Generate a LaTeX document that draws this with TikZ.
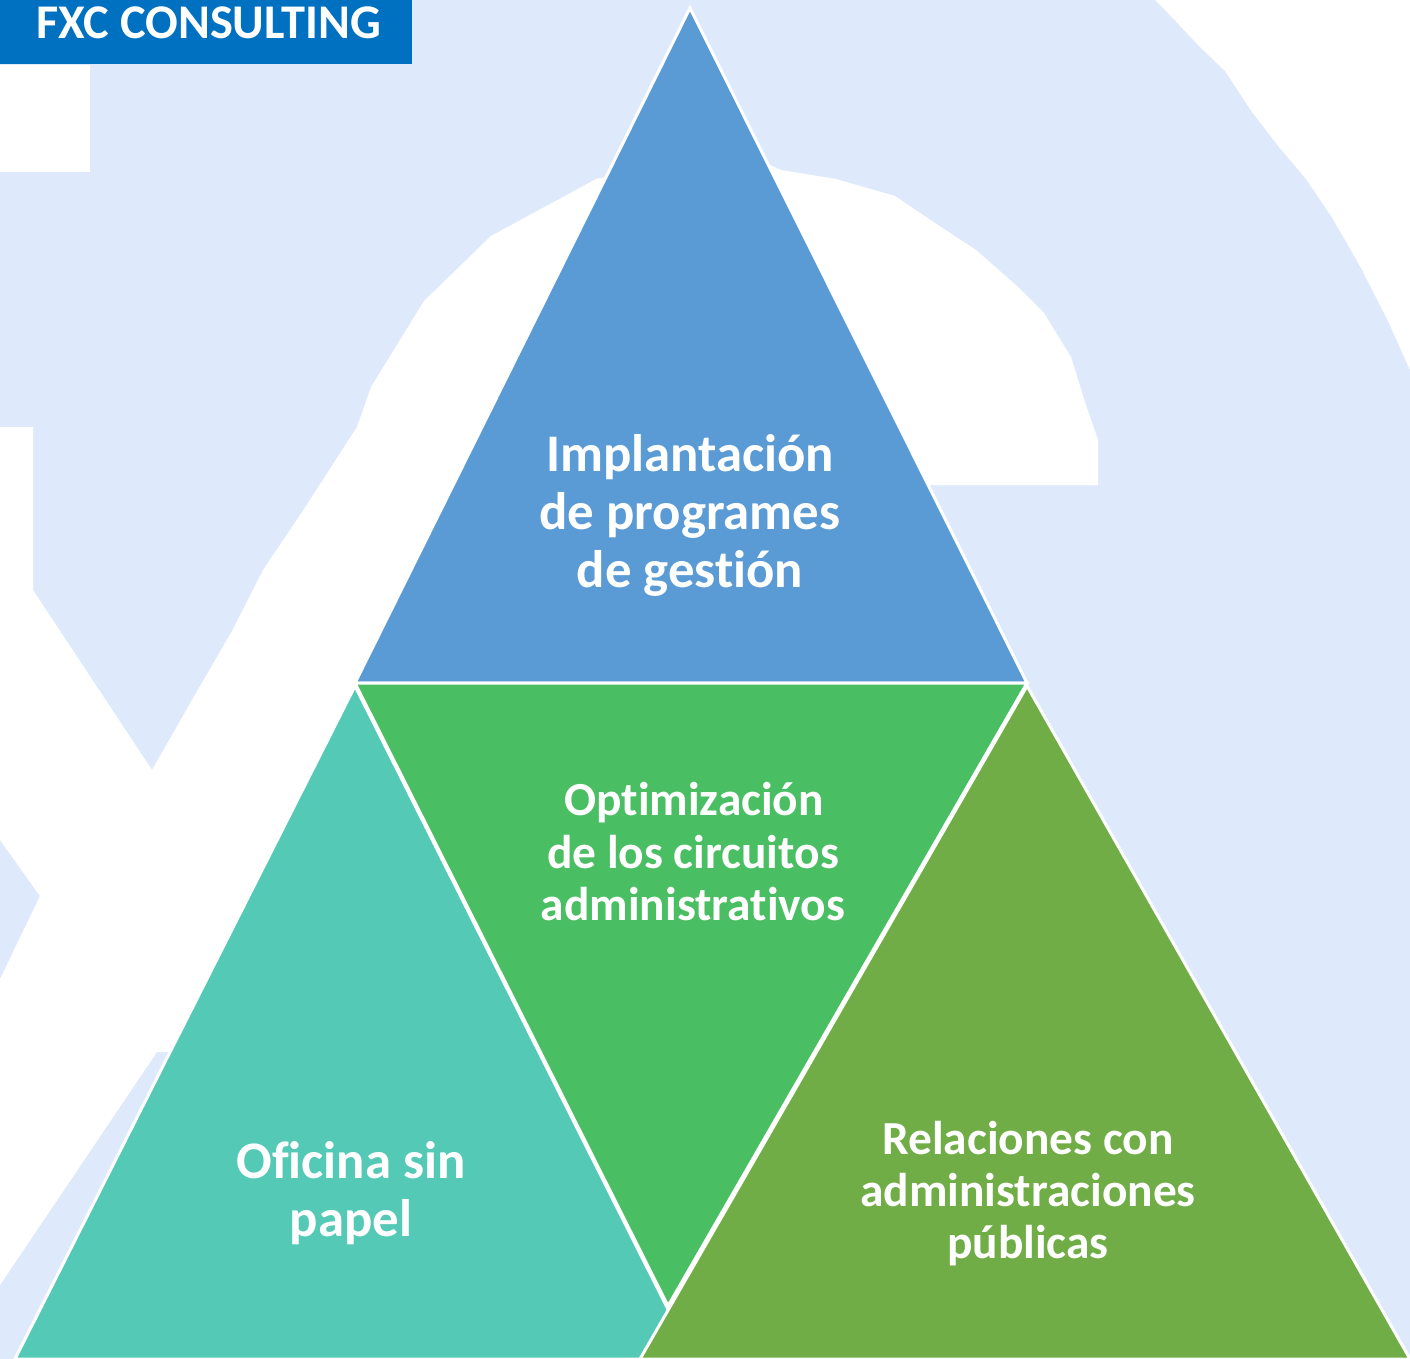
\documentclass[tikz,border=0pt]{standalone}
\usepackage{fontspec}
\setmainfont{Carlito}[Ligatures={NoCommon}]
\definecolor{bgblue}{RGB}{222,234,251}
\definecolor{hdrblue}{RGB}{0,112,192}
\definecolor{triblue}{RGB}{91,155,213}
\definecolor{trigreen}{RGB}{74,190,99}
\definecolor{triteal}{RGB}{84,201,181}
\definecolor{triolive}{RGB}{112,173,71}
\tikzset{
  tri/.style={draw=white, line width=1.5pt, line join=miter},
  wmark/.style={fill=white, draw=none},
  bigtxt/.style={text=white, inner sep=0pt, anchor=base, font=\bfseries\fontsize{26.4}{29}\selectfont},
  smalltxt/.style={text=white, inner sep=0pt, anchor=base, font=\bfseries\fontsize{23.7}{26}\selectfont},
  hdrtxt/.style={text=white, inner sep=0pt, anchor=base, font=\bfseries\fontsize{24.2}{26}\selectfont}
}
\begin{document}
\begin{tikzpicture}[x=0.5pt, y=-0.5pt]
  % background
  \fill[bgblue] (0,0) rectangle (1410,1359);
  \useasboundingbox (0,0) rectangle (1410,1359);
  % watermark shapes
  \fill[wmark] (0,65) rectangle (90,172);
  \fill[wmark] (0,427) -- (33,427) -- (33,590) -- (152,770) -- (192,700) -- (232,631)
     -- (263,570) -- (304,509) -- (357,427) -- (371,387) -- (424,301) -- (491,236)
     -- (598,178) -- (700,178) -- (700,686) -- (355,686) -- (170,1052) -- (157,1052)
     -- (0,1285) -- (0,979) -- (40,896) -- (0,840) -- cycle;
  \fill[wmark] (740,165) -- (770,165) -- (781,170) -- (836,179) -- (895,196) -- (935,223)
     -- (976,250) -- (1017,286) -- (1044,313) -- (1071,357) -- (1085,402) -- (1098,440)
     -- (1098,485) -- (900,485) -- cycle;
  \fill[wmark] (1155,0) -- (1168,13) -- (1198,45) -- (1225,71) -- (1252,112) -- (1279,147)
     -- (1306,179) -- (1333,219) -- (1361,268) -- (1388,321) -- (1410,370) -- (1410,0) -- cycle;
  % header
  \fill[hdrblue] (0,0) rectangle (412,64);
  \node[hdrtxt] (hdr) at (209,39) {FXC CONSULTING};
  % triangles
  \coordinate (bA) at (690,8);
  \coordinate (bL) at (355,683);
  \coordinate (bR) at (1027,683);
  \coordinate (gB) at (668,1306);
  \coordinate (tA) at (355,686);
  \coordinate (tL) at (15,1359);
  \coordinate (tR) at (693,1359);
  \coordinate (oA) at (1027,686);
  \coordinate (oL) at (640,1359);
  \coordinate (oR) at (1410,1359);
  \filldraw[tri, fill=triblue] (bA) -- (bL) -- (bR) -- cycle;
  \filldraw[tri, fill=trigreen] (bL) -- (bR) -- (gB) -- cycle;
  \filldraw[tri, fill=triteal] (tA) -- (tL) -- (tR) -- cycle;
  \filldraw[tri, fill=triolive] (oA) -- (oL) -- (oR) -- cycle;
  % labels
  \node[bigtxt] (b1) at (690,471) {Implantación};
  \node[bigtxt] (b2) at (690,529) {de programes};
  \node[bigtxt] (b3) at (690,587) {de gestión};
  \node[smalltxt] (g1) at (694,815) {Optimización};
  \node[smalltxt] (g2) at (693,868) {de los circuitos};
  \node[smalltxt] (g3) at (693,920) {administrativos};
  \node[bigtxt] (t1) at (351,1178) {Oficina sin};
  \node[bigtxt] (t2) at (351,1236) {papel};
  \node[smalltxt] (o1) at (1028,1154) {Relaciones con};
  \node[smalltxt] (o2) at (1028,1206) {administraciones};
  \node[smalltxt] (o3) at (1028,1258) {públicas};
\end{tikzpicture}
\end{document}
